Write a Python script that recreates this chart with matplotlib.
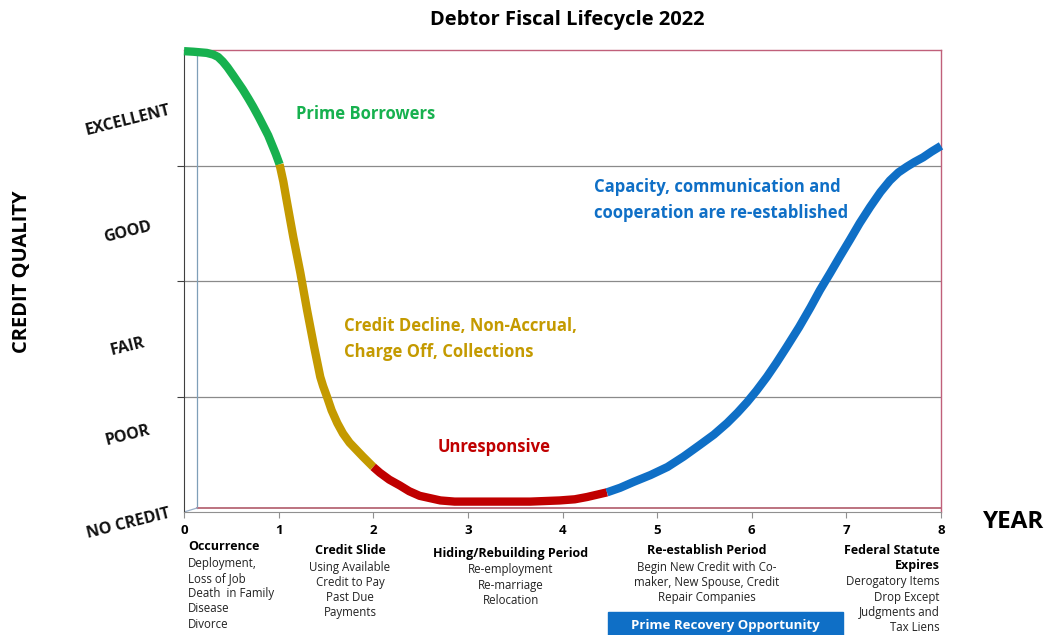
import matplotlib
matplotlib.use("Agg")
import matplotlib.pyplot as plt
from matplotlib.patches import Rectangle

plt.rcParams['font.family'] = ['Open Sans', 'DejaVu Sans']

# curve segments (year, credit quality 0..4)
green_x = [0, 0.10, 0.17, 0.24, 0.31, 0.36, 0.41, 0.46, 0.52, 0.57, 0.62,
           0.68, 0.73, 0.79, 0.84, 0.89, 0.93, 0.97, 1.01]
green_y = [3.99, 3.985, 3.98, 3.975, 3.96, 3.94, 3.90, 3.85, 3.78, 3.72, 3.66,
           3.58, 3.51, 3.42, 3.34, 3.26, 3.18, 3.10, 3.01]
gold_x = [1.01, 1.05, 1.08, 1.155, 1.23, 1.30, 1.375, 1.44, 1.47, 1.51, 1.56,
          1.62, 1.68, 1.75, 1.82, 1.89, 2.00]
gold_y = [3.01, 2.86, 2.72, 2.38, 2.07, 1.75, 1.43, 1.17, 1.09, 1.00, 0.88,
          0.77, 0.68, 0.60, 0.54, 0.48, 0.39]
red_x = [2.00, 2.07, 2.17, 2.28, 2.38, 2.49, 2.60, 2.71, 2.86, 3.02, 3.34,
         3.66, 3.97, 4.13, 4.26, 4.47]
red_y = [0.39, 0.34, 0.28, 0.23, 0.18, 0.14, 0.12, 0.10, 0.09, 0.09, 0.09,
         0.09, 0.10, 0.11, 0.13, 0.17]
blue_x = [4.47, 4.61, 4.75, 4.93, 5.11, 5.28, 5.45, 5.60, 5.74, 5.85, 5.95,
          6.05, 6.16, 6.26, 6.37, 6.50, 6.62, 6.72, 6.83, 6.93, 7.04, 7.14,
          7.25, 7.36, 7.46, 7.55, 7.64, 7.72, 7.81, 7.90, 8.0]
blue_y = [0.17, 0.21, 0.26, 0.32, 0.39, 0.48, 0.58, 0.67, 0.77, 0.86, 0.95,
          1.05, 1.17, 1.29, 1.43, 1.60, 1.77, 1.92, 2.07, 2.21, 2.36, 2.50,
          2.64, 2.77, 2.87, 2.94, 2.99, 3.03, 3.07, 3.12, 3.17]

quality_labels = ["NO CREDIT", "POOR", "FAIR", "GOOD", "EXCELLENT"]
quality_y = [-0.10, 0.66, 1.43, 2.42, 3.39]
years = [0, 1, 2, 3, 4, 5, 6, 7, 8]

c_green = "#17B14F"
c_gold = "#C49A00"
c_red = "#C00000"
c_blue = "#0F6FC6"

W, H = 1047, 635
fig = plt.figure(figsize=(W / 100, H / 100), dpi=100)
ax = fig.add_axes([184 / W, 1 - 512 / H, (941 - 184) / W, (512 - 50) / H])


def fpos(x, y):
    return x / W, 1 - y / H


ax.set_xlim(0, 8)
ax.set_ylim(0, 4)

for y in [1, 2, 3]:
    ax.axhline(y, color="#8a8a8a", lw=0.9, zorder=1)
# inner "3d" frame lines
ax.plot([0.14, 0.14], [0.035, 4], color="#7f9fb8", lw=0.9, zorder=1)
ax.plot([0.14, 8], [0.035, 0.035], color="#b05a6a", lw=1.2, zorder=1)
ax.plot([0, 0.14], [0, 0.035], color="#9ab0c8", lw=0.9, zorder=1)

for xs, ys, c in [(green_x, green_y, c_green), (gold_x, gold_y, c_gold),
                  (red_x, red_y, c_red), (blue_x, blue_y, c_blue)]:
    ax.plot(xs, ys, color=c, lw=6, solid_capstyle="butt",
            solid_joinstyle="round", zorder=3, clip_on=False)

for s in ["top", "right"]:
    ax.spines[s].set_color("#c0607a")
    ax.spines[s].set_linewidth(1.0)
ax.spines["left"].set_color("#404040")
ax.spines["bottom"].set_color("#909090")

ax.set_yticks([1, 2, 3])
ax.set_yticklabels([])
ax.tick_params(axis="y", length=5, color="#404040")
ax.set_xticks(years)
ax.set_xticklabels([str(v) for v in years], fontsize=9.5, fontweight="bold")
ax.tick_params(axis="x", length=4, color="#909090", pad=5)

for lab, yv in zip(quality_labels, quality_y):
    ax.text(-0.59, yv, lab, rotation=14, ha="center", va="center",
            fontsize=11.5, fontweight="bold", color="#111111", clip_on=False,
            rotation_mode="anchor")

ax.text(1.18, 3.45, "Prime Borrowers", color=c_green, fontsize=12,
        fontweight="bold", ha="left", va="center")
ax.text(4.33, 2.70, "Capacity, communication and\ncooperation are re-established",
        color=c_blue, fontsize=12, fontweight="bold", ha="left", va="center",
        linespacing=1.6)
ax.text(1.69, 1.50, "Credit Decline, Non-Accrual,\nCharge Off, Collections",
        color=c_gold, fontsize=12, fontweight="bold", ha="left", va="center",
        linespacing=1.55)
ax.text(2.68, 0.56, "Unresponsive", color=c_red, fontsize=12,
        fontweight="bold", ha="left", va="center")

fig.text(*fpos(567, 20), "Debtor Fiscal Lifecycle 2022", fontsize=14.5,
         fontweight="bold", ha="center", va="center")
fig.text(*fpos(22, 272), "CREDIT QUALITY", fontsize=14.5, fontweight="bold",
         rotation=90, ha="center", va="center")
fig.text(*fpos(1014, 522), "YEAR", fontsize=17.5, fontweight="bold",
         ha="center", va="center")

# phase notes under the axis
blocks = [
    (188, 547, "left", ["Occurrence"],
     ["Deployment,", "Loss of Job", "Death  in Family", "Disease", "Divorce"]),
    (350, 551, "center", ["Credit Slide"],
     ["Using Available", "Credit to Pay", "Past Due", "Payments"]),
    (511, 554, "center", ["Hiding/Rebuilding Period"],
     ["Re-employment", "Re-marriage", "Relocation"]),
    (707, 551, "center", ["Re-establish Period"],
     ["Begin New Credit with Co-", "maker, New Spouse, Credit", "Repair Companies"]),
    (940, 550, "right", ["Federal Statute", "Expires"],
     ["Derogatory Items", "Drop Except", "Judgments and", "Tax Liens"]),
]
for x0, y0, ha, heads, lines in blocks:
    y = y0
    for h in heads:
        fig.text(*fpos(x0, y), h, fontsize=9, fontweight="bold", ha=ha, va="center")
        y += 16
    for ln in lines:
        fig.text(*fpos(x0, y), ln, fontsize=8.3, ha=ha, va="center", color="#222222")
        y += 15.3

fig.patches.append(Rectangle(fpos(608, 635), 235 / W, 23 / H,
                             transform=fig.transFigure, color=c_blue, zorder=0))
fig.text(*fpos(725, 625), "Prime Recovery Opportunity", fontsize=9.5,
         fontweight="bold", color="white", ha="center", va="center")

fig.savefig("out.png", dpi=100)
